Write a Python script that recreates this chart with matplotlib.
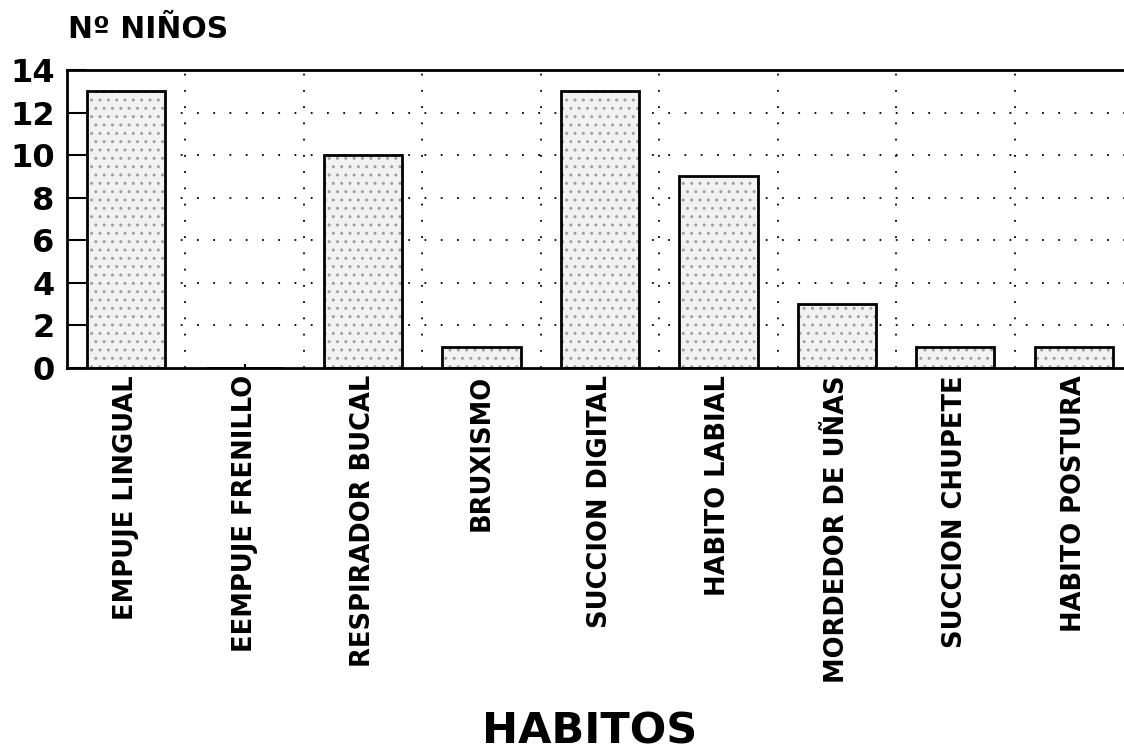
import matplotlib
matplotlib.use("Agg")
import matplotlib.pyplot as plt

"""Habitos - numero de ninos"""

habitos = ["EMPUJE LINGUAL", "EEMPUJE FRENILLO", "RESPIRADOR BUCAL", "BRUXISMO",
           "SUCCION DIGITAL", "HABITO LABIAL", "MORDEDOR DE UÑAS",
           "SUCCION CHUPETE", "HABITO POSTURA"]
ninos = [13, 0, 10, 1, 13, 9, 3, 1, 1]
yticks = [0, 2, 4, 6, 8, 10, 12, 14]

plt.rcParams['font.family'] = ['DejaVu Sans']
plt.rcParams['font.weight'] = 'bold'

fig = plt.figure(figsize=(11.24, 7.5), dpi=100)
ax = fig.add_axes([67 / 1124, 1 - 368 / 750, 1066 / 1124, 298 / 750])

x = list(range(len(habitos)))

# grid first, bars go over it
for y in yticks[1:-1]:
    ax.axhline(y, color='black', lw=1.3, ls=(0, (1, 8)), zorder=0)
for b in range(len(habitos) - 1):
    ax.axvline(b + 0.5, color='black', lw=1.3, ls=(0, (1, 8)), zorder=0)

# stippled fill, then the black outline
ax.bar(x, ninos, width=0.66, color='#f2f2f2', edgecolor='#a0a0a0', hatch='..',
       linewidth=0, zorder=2)
ax.bar(x, ninos, width=0.66, fill=False, edgecolor='black', linewidth=2, zorder=3)

ax.set_xlim(-0.5, len(habitos) - 0.5)
ax.set_ylim(0, 14)
ax.set_yticks(yticks)
ax.set_xticks(x)
ax.set_xticklabels(habitos, rotation=90, fontsize=18.5, fontweight='bold')
ax.set_yticklabels([str(v) for v in yticks], fontsize=23, fontweight='bold')

ax.tick_params(axis='y', direction='in', length=14, width=1.5, pad=9)
ax.tick_params(axis='x', direction='in', length=3, width=1.5, pad=5)

for s in ['left', 'top', 'bottom']:
    ax.spines[s].set_linewidth(2)
ax.spines['right'].set_visible(False)

fig.text(68 / 1124, 1 - 38 / 750, "Nº NIÑOS", fontsize=21.5, fontweight='bold',
         va='baseline', ha='left')
fig.text(590 / 1124, 1 - 743 / 750, "HABITOS", fontsize=31, fontweight='bold',
         va='baseline', ha='center')

plt.savefig("out.png", dpi=100)
